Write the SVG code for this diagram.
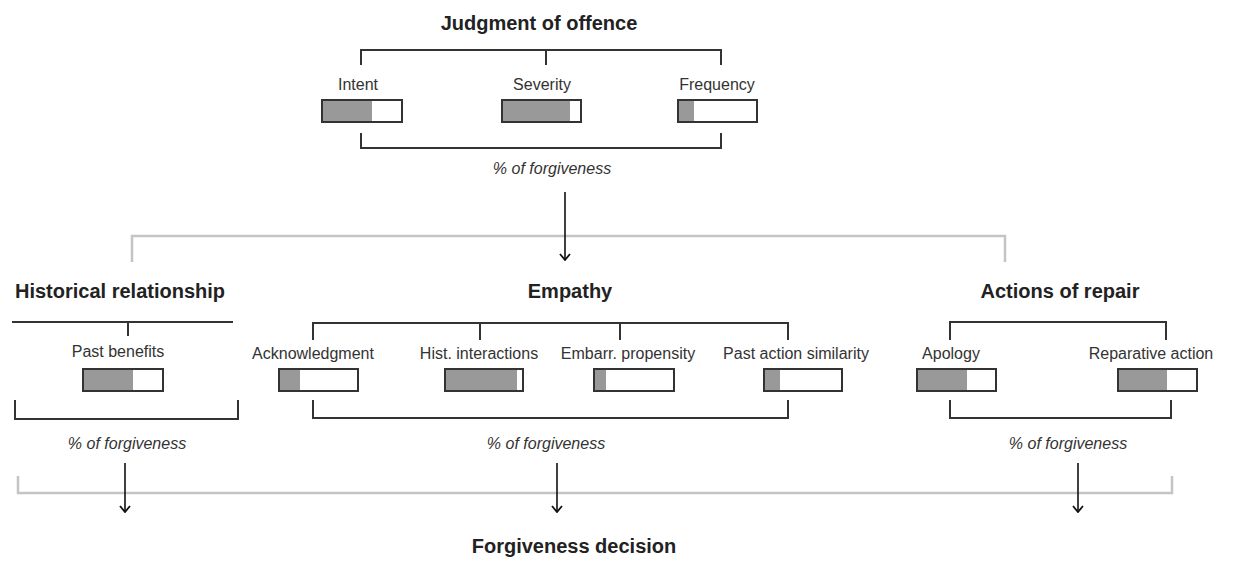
<svg xmlns="http://www.w3.org/2000/svg" width="1235" height="562" viewBox="0 0 1235 562">
<style>
.title{font-family:"Liberation Sans",Arial,sans-serif;font-weight:bold;font-size:20px;fill:#222;text-anchor:middle}
.lbl{font-family:"Liberation Sans",Arial,sans-serif;font-size:16px;fill:#333;text-anchor:middle}
.pct{font-family:"Liberation Sans",Arial,sans-serif;font-style:italic;font-size:16px;fill:#333;text-anchor:middle}
.br{fill:none;stroke:#333;stroke-width:2}
.gr{fill:none;stroke:#c4c4c4;stroke-width:2.5}
.bar{fill:#fff;stroke:#333;stroke-width:2}
.fill{fill:#999}
.arr{fill:none;stroke:#111;stroke-width:1.6}
</style>
<defs>
<marker id="ah" viewBox="0 0 10 12" refX="9" refY="6" markerWidth="10" markerHeight="12" markerUnits="userSpaceOnUse" orient="auto">
<path d="M3 1 L9 6 L3 11" fill="none" stroke="#111" stroke-width="1.8"/>
</marker>
</defs>
<rect width="1235" height="562" fill="#fff"/>

<g id="connectors">
<path class="br" d="M361 65 V50 H721 V65 M546 50 V65"/>
<path class="br" d="M361 133 V148 H721 V133"/>
<path class="gr" d="M132 262 V236 H1005 V262"/>
<path class="br" d="M12 322 H233 M128 322 V336"/>
<path class="br" d="M15 400 V419 H238 V400"/>
<path class="br" d="M313 340 V323 H788 V340 M480 323 V340 M620 323 V340"/>
<path class="br" d="M313 400 V418 H788 V400"/>
<path class="br" d="M950 340 V322 H1166 V340"/>
<path class="br" d="M950 400 V418 H1171 V400"/>
<path class="gr" d="M18 476 V493 H1172 V476"/>
<line class="arr" x1="565" y1="192" x2="565" y2="260" marker-end="url(#ah)"/>
<line class="arr" x1="125" y1="463" x2="125" y2="512" marker-end="url(#ah)"/>
<line class="arr" x1="557" y1="463" x2="557" y2="512" marker-end="url(#ah)"/>
<line class="arr" x1="1078" y1="463" x2="1078" y2="512" marker-end="url(#ah)"/>
</g>

<g id="judgment">
<text class="title" x="539" y="30">Judgment of offence</text>
<text class="pct" x="552" y="174">% of forgiveness</text>
</g>
<g id="intent">
<text class="lbl" x="358" y="90">Intent</text>
<rect class="bar" x="322" y="100" width="80" height="22"/>
<rect class="fill" x="323" y="101" width="49" height="20"/>
</g>
<g id="severity">
<text class="lbl" x="542" y="90">Severity</text>
<rect class="bar" x="502" y="100" width="79" height="22"/>
<rect class="fill" x="503" y="101" width="67" height="20"/>
</g>
<g id="frequency">
<text class="lbl" x="717" y="90">Frequency</text>
<rect class="bar" x="678" y="100" width="79" height="22"/>
<rect class="fill" x="679" y="101" width="15" height="20"/>
</g>

<g id="historical">
<text class="title" x="120" y="298">Historical relationship</text>
<text class="pct" x="127" y="449">% of forgiveness</text>
</g>
<g id="past-benefits">
<text class="lbl" x="118" y="357">Past benefits</text>
<rect class="bar" x="83" y="369" width="80" height="22"/>
<rect class="fill" x="84" y="370" width="49" height="20"/>
</g>

<g id="empathy">
<text class="title" x="570" y="298">Empathy</text>
<text class="pct" x="546" y="449">% of forgiveness</text>
</g>
<g id="acknowledgment">
<text class="lbl" x="313" y="359">Acknowledgment</text>
<rect class="bar" x="279" y="369" width="79" height="22"/>
<rect class="fill" x="280" y="370" width="20" height="20"/>
</g>
<g id="hist-interactions">
<text class="lbl" x="479" y="359">Hist. interactions</text>
<rect class="bar" x="445" y="369" width="78" height="22"/>
<rect class="fill" x="446" y="370" width="71" height="20"/>
</g>
<g id="embarr-propensity">
<text class="lbl" x="628" y="359">Embarr. propensity</text>
<rect class="bar" x="594" y="369" width="80" height="22"/>
<rect class="fill" x="595" y="370" width="11" height="20"/>
</g>
<g id="past-action-similarity">
<text class="lbl" x="796" y="359">Past action similarity</text>
<rect class="bar" x="764" y="369" width="78" height="22"/>
<rect class="fill" x="765" y="370" width="15" height="20"/>
</g>

<g id="repair">
<text class="title" x="1060" y="298">Actions of repair</text>
<text class="pct" x="1068" y="449">% of forgiveness</text>
</g>
<g id="apology">
<text class="lbl" x="951" y="359">Apology</text>
<rect class="bar" x="917" y="369" width="79" height="22"/>
<rect class="fill" x="918" y="370" width="49" height="20"/>
</g>
<g id="reparative-action">
<text class="lbl" x="1151" y="359">Reparative action</text>
<rect class="bar" x="1118" y="369" width="79" height="22"/>
<rect class="fill" x="1119" y="370" width="48" height="20"/>
</g>

<g id="decision">
<text class="title" x="574" y="553">Forgiveness decision</text>
</g>
</svg>
